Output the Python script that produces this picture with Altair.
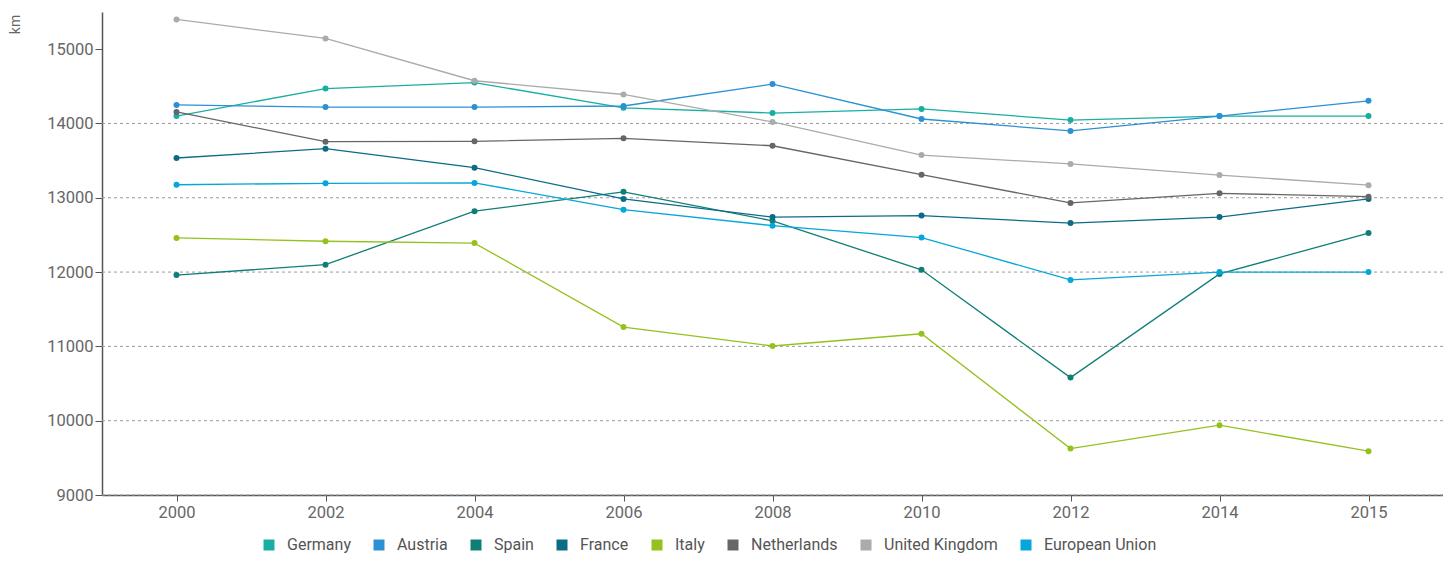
import altair as alt
import pandas as pd

years = ["2000", "2002", "2004", "2006", "2008", "2010", "2012", "2014", "2015"]
countries = ["Germany", "Austria", "Spain", "France", "Italy", "Netherlands",
             "United Kingdom", "European Union"]
colors = ["#17afa2", "#2b90d4", "#0f7e77", "#0c6b87", "#95c11f", "#666666",
          "#ababab", "#05a6d9"]

germany = [14100, 14470, 14550, 14210, 14140, 14195, 14045, 14100, 14100]
austria = [14250, 14220, 14220, 14235, 14530, 14060, 13900, 14100, 14305]
spain = [11960, 12100, 12820, 13080, 12690, 12030, 10580, 11975, 12525]
france = [13535, 13660, 13405, 12985, 12740, 12760, 12660, 12740, 12985]
italy = [12460, 12415, 12390, 11260, 11005, 11170, 9625, 9940, 9590]
netherlands = [14155, 13755, 13760, 13800, 13700, 13310, 12930, 13060, 13015]
uk = [15400, 15145, 14575, 14390, 14020, 13575, 13455, 13305, 13170]
eu = [13175, 13195, 13200, 12840, 12625, 12465, 11895, 12000, 12000]

y_ticks = [9000, 10000, 11000, 12000, 13000, 14000, 15000]
grid_vals = [9000, 10000, 11000, 12000, 13000, 14000]

series = [germany, austria, spain, france, italy, netherlands, uk, eu]
rows = []
for name, vals in zip(countries, series):
    for yr, v in zip(years, vals):
        rows.append({"year": yr, "value": v, "country": name})
df = pd.DataFrame(rows)
grid_df = pd.DataFrame({"g": grid_vals})

yscale = alt.Scale(domain=[9000, 15500], nice=False, zero=False)
color = alt.Color(
    "country:N",
    scale=alt.Scale(domain=countries, range=colors),
    sort=countries,
    legend=alt.Legend(
        title=None, orient="none", direction="horizontal", columns=8,
        legendX=159, legendY=525, symbolType="square", symbolSize=121,
        symbolStrokeWidth=0, labelFontSize=16, labelColor="#555555",
        labelFont="Roboto", columnPadding=20, labelOffset=10, padding=0,
    ),
)

grid = alt.Chart(grid_df).mark_rule(
    color="#9a9a9a", strokeDash=[3, 3], strokeWidth=1
).encode(y=alt.Y("g:Q", scale=yscale))

base = alt.Chart(df).encode(
    x=alt.X("year:O", sort=years, title=None,
            axis=alt.Axis(labelAngle=0, labelFontSize=16.5, labelColor="#666666",
                          labelFont="Roboto", domainColor="#555555",
                          domainWidth=1.5, tickColor="#555555", tickSize=6,
                          labelPadding=3, grid=False)),
    y=alt.Y("value:Q", scale=yscale, title="km",
            axis=alt.Axis(values=y_ticks, format="d", grid=False,
                          labelFontSize=16.5,
                          labelColor="#666666", labelFont="Roboto",
                          domainColor="#555555", domainWidth=1.5,
                          tickColor="#555555", tickSize=7, labelPadding=2,
                          titleFontSize=14, titleColor="#666666",
                          titleFont="Roboto", titleFontWeight="normal",
                          titleAngle=270, titleX=-87, titleY=12,
                          titleAlign="center", titleBaseline="middle")),
    color=color,
    detail="country:N",
)

lines = base.mark_line(strokeWidth=1.3)
points = base.mark_circle(size=36, opacity=1)

chart = alt.layer(grid, lines, points).properties(
    width=1341, height=483,
    autosize=alt.AutoSizeParams(type="none"),
    padding={"left": 94, "top": 4, "right": 0, "bottom": 61},
).configure_view(stroke=None)

chart.save("out.html", embed_options={"renderer": "svg", "actions": False})
